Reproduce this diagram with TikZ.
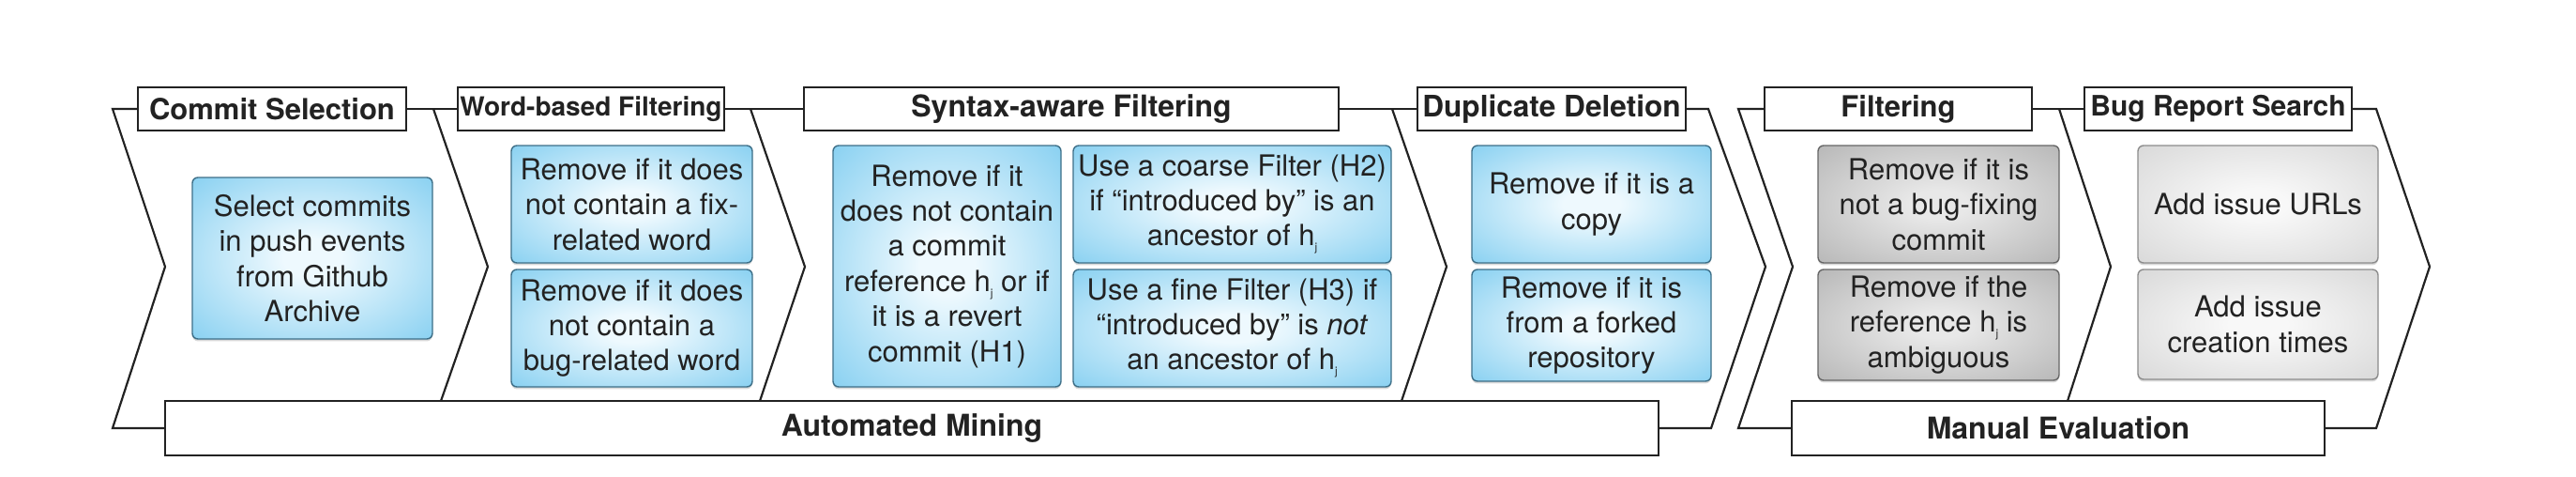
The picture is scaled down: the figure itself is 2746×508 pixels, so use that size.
\documentclass[tikz,border=0pt]{standalone}
\usepackage{fontspec}
\setmainfont{TeX Gyre Heros}
\usetikzlibrary{shadows}
\definecolor{blueE}{HTML}{58BDEB}
\definecolor{blueC}{HTML}{EEF9FE}
\definecolor{blueD}{HTML}{3D6F88}
\definecolor{grayE}{HTML}{A0A0A0}
\definecolor{grayC}{HTML}{E8E8E8}
\definecolor{grayD}{HTML}{666666}
\definecolor{lgrayE}{HTML}{CACACA}
\definecolor{lgrayC}{HTML}{F8F8F8}
\definecolor{lgrayD}{HTML}{8C8C8C}
\definecolor{ink}{HTML}{222222}
\pgfdeclareradialshading{blueglow}{\pgfpoint{0bp}{0bp}}{color(0bp)=(blueC); color(6bp)=(blueC); color(50bp)=(blueE); color(72bp)=(blueE)}
\pgfdeclareradialshading{grayglow}{\pgfpoint{0bp}{0bp}}{color(0bp)=(grayC); color(6bp)=(grayC); color(50bp)=(grayE); color(72bp)=(grayE)}
\pgfdeclareradialshading{lgrayglow}{\pgfpoint{0bp}{0bp}}{color(0bp)=(lgrayC); color(6bp)=(lgrayC); color(50bp)=(lgrayE); color(72bp)=(lgrayE)}
\newcommand\cardat[7]{\node[#6, minimum width={(#4-#2)*0.5pt}, minimum height={(#5-#3)*0.5pt}] (#1) at ({(#2+#4)/2},{(#3+#5)/2}) {#7};}
\newcommand\labat[5]{\node[#4, minimum width={(#3-#2)*0.5pt}] (#1) at ({(#2+#3)/2},116) {#5};}
\newcommand\hj{h\raisebox{-3pt}{\fontsize{6}{6}\selectfont j}}
\begin{document}
\begin{tikzpicture}[x=0.5pt,y=-0.5pt,
  lbl/.style={draw=ink, line width=1.15pt, fill=white, inner sep=0pt, minimum height=23pt,
    font=\bfseries\fontsize{15.5}{18}\selectfont, text=ink},
  botlbl/.style={draw=ink, line width=1.15pt, fill=white, inner sep=0pt, minimum height=29pt,
    font=\bfseries\fontsize{16}{19}\selectfont, text=ink},
  chev/.style={draw=ink, line width=1.1pt, line join=miter},
  card/.style={rounded corners=3pt, line width=0.7pt, inner sep=0pt, align=center,
    font=\fontsize{15.5}{18.7}\selectfont, text=ink,
    drop shadow={opacity=0.3, shadow xshift=0pt, shadow yshift=-1.2pt}},
  bluecard/.style={card, draw=blueD, shading=blueglow},
  graycard/.style={card, draw=grayD, shading=grayglow},
  lgraycard/.style={card, draw=lgrayD, shading=lgrayglow}
]
\useasboundingbox (0,0) rectangle (2746,508);

% label boxes
\labat{commitL}{147}{433}{lbl}{Commit Selection}
\labat{wordL}{488}{772}{lbl, font=\bfseries\fontsize{14}{17}\selectfont}{Word-based Filtering}
\labat{syntaxL}{857}{1427}{lbl, font=\bfseries\fontsize{16}{18}\selectfont}{Syntax-aware Filtering}
\labat{dupL}{1511}{1797}{lbl, font=\bfseries\fontsize{15.8}{18}\selectfont}{Duplicate Deletion}
\labat{filtL}{1881}{2166}{lbl}{Filtering}
\labat{bugL}{2222}{2507}{lbl, font=\bfseries\fontsize{15}{18}\selectfont}{Bug Report Search}
\node[botlbl, minimum width={(1768-176)*0.5pt}] (autoL) at (972,456) {Automated Mining};
\node[botlbl, minimum width={(2478-1910)*0.5pt}] (manL) at (2194,456) {Manual Evaluation};

% chevron points
\coordinate (oA1) at (120,116); \coordinate (oA2) at (176,284); \coordinate (oA3) at (120,456);
\coordinate (c1t) at (462,116); \coordinate (c1m) at (520,284); \coordinate (c1b) at (470,427);
\coordinate (c2t) at (800,116); \coordinate (c2m) at (858,284); \coordinate (c2b) at (810,427);
\coordinate (c3t) at (1484,116); \coordinate (c3m) at (1542,284); \coordinate (c3b) at (1494,427);
\coordinate (eA1) at (1821,116); \coordinate (eA2) at (1882,284); \coordinate (eA3) at (1824,456);
\coordinate (oB1) at (1853,116); \coordinate (oB2) at (1911,284); \coordinate (oB3) at (1853,456);
\coordinate (c4t) at (2195,116); \coordinate (c4m) at (2250,284); \coordinate (c4b) at (2204,427);
\coordinate (eB1) at (2533,116); \coordinate (eB2) at (2590,284); \coordinate (eB3) at (2533,456);

% group A outline
\draw[chev] (commitL.west) -- (oA1) -- (oA2) -- (oA3) -- (autoL.west);
\draw[chev] (commitL.east) -- (wordL.west);
\draw[chev] (wordL.east) -- (syntaxL.west);
\draw[chev] (syntaxL.east) -- (dupL.west);
\draw[chev] (dupL.east) -- (eA1) -- (eA2) -- (eA3) -- (autoL.east);
\draw[chev] (c1t) -- (c1m) -- (c1b);
\draw[chev] (c2t) -- (c2m) -- (c2b);
\draw[chev] (c3t) -- (c3m) -- (c3b);
% group B outline
\draw[chev] (filtL.west) -- (oB1) -- (oB2) -- (oB3) -- (manL.west);
\draw[chev] (filtL.east) -- (bugL.west);
\draw[chev] (bugL.east) -- (eB1) -- (eB2) -- (eB3) -- (manL.east);
\draw[chev] (c4t) -- (c4m) -- (c4b);

% cards
\cardat{b1}{205}{189}{461}{361}{bluecard}{Select commits\\in push events\\from Github\\Archive}
\cardat{b2}{545}{155}{802}{280}{bluecard}{Remove if it does\\not contain a fix-\\related word}
\cardat{b3}{545}{287}{802}{412}{bluecard}{Remove if it does\\not contain a\\bug-related word}
\cardat{b4}{888}{155}{1131}{412}{bluecard}{Remove if it\\does not contain\\a commit\\reference \hj{} or if\\it is a revert\\commit (H1)}
\cardat{b5}{1144}{155}{1483}{280}{bluecard}{Use a coarse Filter (H2)\\if “introduced by” is an\\ancestor of \hj}
\cardat{b6}{1144}{287}{1483}{412}{bluecard}{Use a fine Filter (H3) if\\“introduced by” is \textit{not}\\an ancestor of \hj}
\cardat{b7}{1569}{155}{1824}{280}{bluecard}{Remove if it is a\\copy}
\cardat{b8}{1569}{287}{1824}{406}{bluecard}{Remove if it is\\from a forked\\repository}
\cardat{b9}{1938}{155}{2195}{280}{graycard}{Remove if it is\\not a bug-fixing\\commit}
\cardat{b10}{1938}{287}{2195}{405}{graycard}{Remove if the\\reference \hj{} is\\ambiguous}
\cardat{b11}{2279}{155}{2535}{280}{lgraycard}{Add issue URLs}
\cardat{b12}{2279}{287}{2535}{404}{lgraycard}{Add issue\\creation times}
\end{tikzpicture}
\end{document}
